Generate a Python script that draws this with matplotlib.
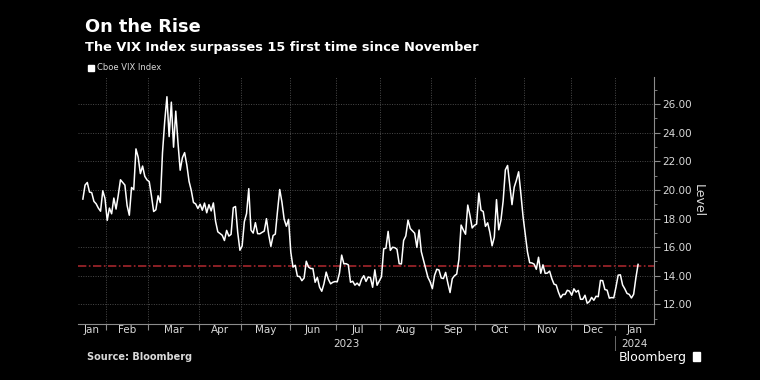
import numpy as np
import matplotlib
matplotlib.use("Agg")
from matplotlib import pyplot as plt
from matplotlib import font_manager
from matplotlib.ticker import MultipleLocator

# daily VIX closes, 2023-01-17 .. 2024-01-17 (trading days)
vix_jan23 = [19.36, 20.34, 20.52, 19.85, 19.81, 19.20, 19.03, 18.73, 18.51, 19.94, 19.40]
vix_feb = [17.87, 18.73, 18.33, 19.43, 18.66, 19.63, 20.71, 20.53, 20.34, 18.91,
           18.23, 20.17, 20.02, 22.87, 22.29, 21.14, 21.67, 20.95, 20.70]
vix_mar = [20.58, 19.59, 18.49, 18.61, 19.59, 19.11, 22.61, 24.80, 26.52, 23.73,
           26.14, 22.99, 25.51, 23.30, 21.38, 22.26, 22.61, 21.74, 20.60, 19.97,
           19.12, 19.02, 18.70]
vix_apr = [19.00, 18.58, 19.08, 18.40, 18.97, 18.53, 19.09, 17.80, 17.07, 16.95,
           16.83, 16.46, 17.17, 16.77, 16.89, 18.76, 18.84, 17.03, 15.78]
vix_may = [16.08, 17.78, 18.34, 20.09, 17.19, 16.98, 17.71, 16.94, 16.93, 17.03,
           17.12, 17.99, 16.87, 16.05, 16.81, 16.91, 18.53, 20.03, 19.14, 17.95,
           17.46, 17.94]
vix_jun = [15.65, 14.60, 14.73, 13.96, 13.94, 13.65, 13.83, 15.01, 14.61, 14.50,
           14.50, 13.54, 13.88, 13.20, 12.91, 13.44, 14.25, 13.74, 13.43, 13.54, 13.59]
vix_jul = [13.57, 14.18, 15.44, 14.83, 14.84, 14.76, 13.54, 13.61, 13.34, 13.48,
           13.30, 13.76, 14.00, 13.60, 13.91, 13.86, 13.19, 14.41, 13.33, 13.63]
vix_aug = [13.93, 15.88, 15.92, 17.10, 15.77, 15.99, 15.96, 15.85, 14.84, 14.82,
           16.46, 16.78, 17.89, 17.30, 17.13, 16.97, 15.98, 17.20, 15.68, 15.08,
           14.45, 13.88, 13.57]
vix_sep = [13.09, 14.02, 14.45, 14.40, 13.84, 13.80, 14.23, 13.48, 12.82, 13.79,
           14.00, 14.11, 15.14, 17.54, 17.20, 16.90, 18.94, 18.22, 17.34, 17.52]
vix_oct = [17.61, 19.78, 18.58, 18.49, 17.45, 17.70, 17.03, 16.09, 16.69, 19.32,
           17.21, 17.88, 19.22, 21.40, 21.71, 20.37, 18.97, 20.19, 20.68, 21.27,
           19.75, 18.14]
vix_nov = [16.87, 15.66, 14.91, 14.89, 14.81, 14.45, 15.29, 14.17, 14.76, 14.16,
           14.18, 14.32, 13.80, 13.41, 13.35, 12.85, 12.46, 12.69, 12.69, 12.98, 12.92]
vix_dec = [12.63, 13.08, 12.85, 12.97, 12.35, 12.35, 12.63, 12.07, 12.19, 12.48,
           12.28, 12.56, 12.53, 13.67, 13.65, 13.03, 12.99, 12.43, 12.47, 12.45]
vix_jan24 = [13.20, 14.04, 14.06, 13.35, 13.08, 12.76, 12.69, 12.44, 12.70, 13.84, 14.79]

months = [vix_jan23, vix_feb, vix_mar, vix_apr, vix_may, vix_jun, vix_jul,
          vix_aug, vix_sep, vix_oct, vix_nov, vix_dec, vix_jan24]
month_labels = ["Jan", "Feb", "Mar", "Apr", "May", "Jun", "Jul", "Aug",
                "Sep", "Oct", "Nov", "Dec", "Jan"]
last_level = 14.70

values = np.concatenate(months)
x = np.arange(len(values))
starts = np.cumsum([0] + [len(m) for m in months])
bounds = starts[1:-1] - 0.5

installed = {f.name for f in font_manager.fontManager.ttflist}
narrow = "Liberation Sans Narrow" if "Liberation Sans Narrow" in installed else "DejaVu Sans"
nsize = 9 if narrow == "Liberation Sans Narrow" else 7.5
nfam = [narrow, "DejaVu Sans"]

fg = "#d9d9d9"
grid_col = "#4a4a4a"

fig = plt.figure(figsize=(7.6, 3.8), dpi=100, facecolor="black")
ax = fig.add_axes([78 / 760, 1 - 324 / 380, 576 / 760, 247 / 380], facecolor="black")

xmin, xmax = -2.2, 258.2
ax.plot(x, values, color="white", lw=1.1, zorder=3)
ax.axhline(last_level, color="#a3262c", lw=1.2, ls=(0, (5, 1.5, 1, 1.5)), zorder=2)

ax.set_xlim(xmin, xmax)
ax.set_ylim(10.62, 27.9)

for b in bounds:
    ax.axvline(b, color=grid_col, lw=0.7, ls=(0, (1, 1.5)), zorder=1)
for yv in np.arange(12, 27, 2):
    ax.axhline(yv, color=grid_col, lw=0.7, ls=(0, (1, 1.5)), zorder=1)

for s in ["top", "left"]:
    ax.spines[s].set_visible(False)
ax.spines["bottom"].set_color("#8c8c8c")
ax.spines["right"].set_color("#8c8c8c")

ax.yaxis.tick_right()
ax.yaxis.set_label_position("right")
ax.yaxis.set_minor_locator(MultipleLocator(1))
ax.set_yticks(np.arange(12, 27, 2))
ax.set_yticklabels([f"{v:.2f}" for v in np.arange(12, 27, 2)])
ax.tick_params(axis="y", which="both", colors="#8c8c8c", labelcolor=fg,
               labelsize=nsize, direction="out", pad=2)
ax.tick_params(axis="y", which="major", length=4)
ax.tick_params(axis="y", which="minor", length=2.5)
ax.set_ylabel("Level", color=fg, fontsize=nsize + 1.5, rotation=270, labelpad=9)

# month ticks at boundaries, labels centred in each month
edges = np.concatenate([[xmin], bounds, [xmax]])
centres = (edges[:-1] + edges[1:]) / 2
ax.set_xticks(bounds)
ax.set_xticklabels([])
ax.set_xticks(centres, minor=True)
ax.set_xticklabels(month_labels, minor=True)
ax.tick_params(axis="x", which="major", colors="#8c8c8c", length=4, direction="out")
ax.tick_params(axis="x", which="minor", length=0, labelcolor=fg, labelsize=nsize, pad=1)

for lab in ax.get_yticklabels() + ax.get_xticklabels(minor=True):
    lab.set_family(nfam)
ax.yaxis.label.set_family(nfam)

xt = ax.get_xaxis_transform()
ax.text((xmin + bounds[-1]) / 2, -0.08, "2023", transform=xt,
        ha="center", va="center", color=fg, fontsize=nsize, family=nfam)
ax.text(centres[-1], -0.08, "2024", transform=xt,
        ha="center", va="center", color=fg, fontsize=nsize, family=nfam)
ax.plot([bounds[-1], bounds[-1]], [-0.05, -0.105], transform=xt,
        color="#6a6a6a", lw=0.7, clip_on=False)

fig.text(85 / 760, 1 - 27 / 380, "On the Rise", color="white", fontsize=12.8,
         weight="bold", va="center", family="DejaVu Sans")
fig.text(85 / 760, 1 - 47 / 380, "The VIX Index surpasses 15 first time since November",
         color="white", fontsize=9.3, weight="bold", va="center", family="DejaVu Sans")
fig.patches.append(plt.Rectangle((88 / 760, 1 - 71 / 380), 6 / 760, 6 / 380,
                                 transform=fig.transFigure, color="white"))
fig.text(97 / 760, 1 - 68 / 380, "Cboe VIX Index", color=fg, fontsize=nsize - 1.5,
         va="center", family=nfam)
fig.text(87 / 760, 1 - 357 / 380, "Source: Bloomberg", color=fg, fontsize=7,
         weight="bold", va="center", family="DejaVu Sans")
fig.text(687 / 760, 1 - 357 / 380, "Bloomberg", color="white", fontsize=nsize + 1.5,
         ha="right", va="center", family=nfam)
fig.patches.append(plt.Rectangle((693 / 760, 1 - 361 / 380), 7 / 760, 9 / 380,
                                 transform=fig.transFigure, color="white"))

fig.savefig("out.png", dpi=100, facecolor="black")
